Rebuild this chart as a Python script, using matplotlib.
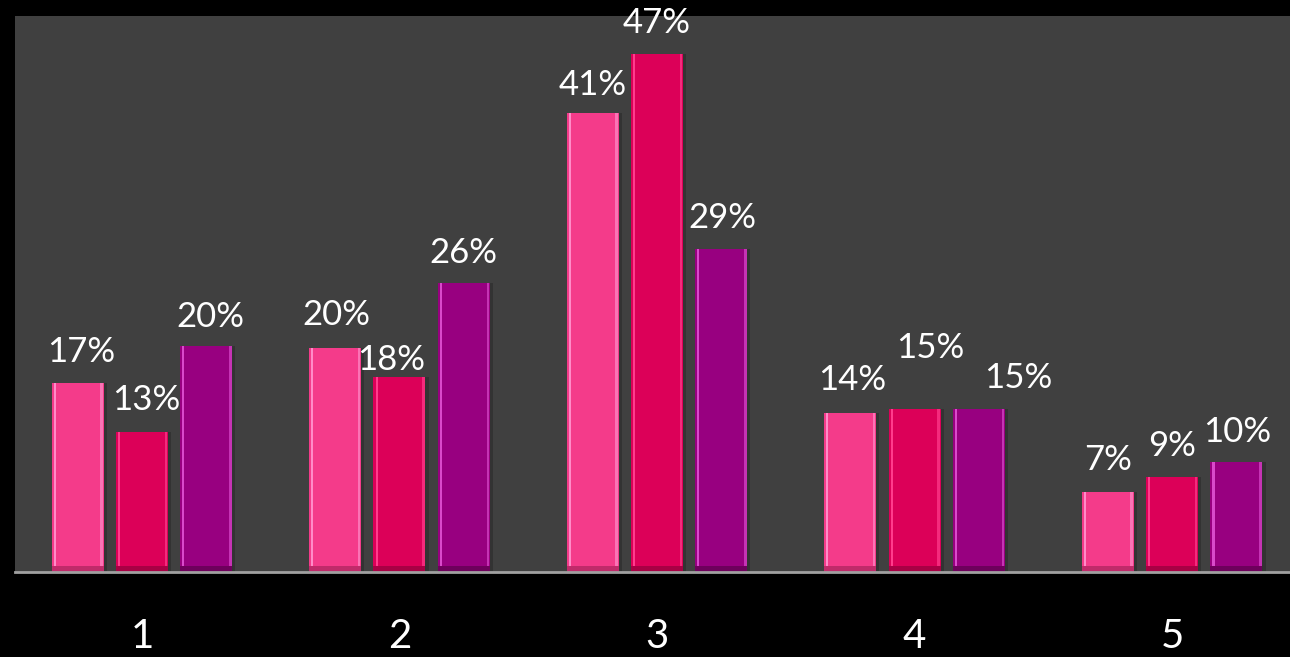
import matplotlib
matplotlib.use("Agg")
import matplotlib.pyplot as plt
import numpy as np

categories = ["1", "2", "3", "4", "5"]
series_a = [0.171, 0.202, 0.414, 0.1435, 0.072]
series_b = [0.126, 0.176, 0.468, 0.147, 0.086]
series_c = [0.204, 0.261, 0.292, 0.147, 0.099]
labels_a = ["17%", "20%", "41%", "14%", "7%"]
labels_b = ["13%", "18%", "47%", "15%", "9%"]
labels_c = ["20%", "26%", "29%", "15%", "10%"]

colors = ["#F43B8A", "#DC0058", "#980080"]
highlights = ["#FF8CC8", "#FF3C8C", "#D94ACB"]
darks = ["#C02A6A", "#A80044", "#6E005C"]

# label offsets in pixels (dx, dy) per series per category
offsets = [
    [(4, 31), (1, 33), (0, 28), (2, 33), (0, 32)],
    [(4, 32), (-8, 17), (0, 31), (16, 61), (0, 31)],
    [(4, 29), (0, 30), (1, 31), (39, 31), (1, 30)],
]

W, H, DPI = 12.9, 6.57, 100
fig = plt.figure(figsize=(W, H), dpi=DPI, facecolor="black")
ax = fig.add_axes([15 / 1290, (657 - 572) / 657, 1 - 15 / 1290, (572 - 16) / 657])
ax.set_facecolor("#404040")

x = np.arange(len(categories))
bw = 0.202
step = 0.25
series = [series_a, series_b, series_c]
labels = [labels_a, labels_b, labels_c]

font = dict(family=["Lato", "DejaVu Sans"], color="white")

for i, (vals, labs) in enumerate(zip(series, labels)):
    pos = x + (i - 1) * step
    # subtle shadow
    ax.bar(pos + 0.012, vals, bw, color="#333333", zorder=1)
    bars = ax.bar(pos, vals, bw, color=colors[i], linewidth=0, zorder=2)
    # bevel: left highlight, right highlight, bottom dark strip
    ax.bar(pos - bw / 2 + 0.012, vals, 0.008, color=highlights[i], zorder=3, linewidth=0)
    ax.bar(pos + bw / 2 - 0.008, vals, 0.01, color=highlights[i], alpha=0.7, zorder=3, linewidth=0)
    ax.bar(pos, [0.005] * len(vals), bw, color=darks[i], zorder=3, linewidth=0)
    for j, (b, lab) in enumerate(zip(bars, labs)):
        dx, dy = offsets[i][j]
        ax.annotate(lab, xy=(b.get_x() + b.get_width() / 2, b.get_height()),
                    xytext=(dx, dy), textcoords="offset pixels",
                    ha="center", va="center", fontsize=25, fontweight="normal",
                    zorder=5, **font)

ax.set_xlim(-0.493, 4.458)
ax.set_ylim(0, 0.502)
ax.set_xticks(x)
ax.set_xticklabels(categories, fontsize=29, fontweight="normal", **font)
ax.tick_params(axis="x", length=0, pad=33)
ax.set_yticks([])
for s in ["left", "right", "top"]:
    ax.spines[s].set_visible(False)
ax.spines["bottom"].set_color("#A0A0A0")
ax.spines["bottom"].set_linewidth(2)
ax.spines["bottom"].set_zorder(6)

fig.savefig("out.png", dpi=DPI, facecolor="black")
